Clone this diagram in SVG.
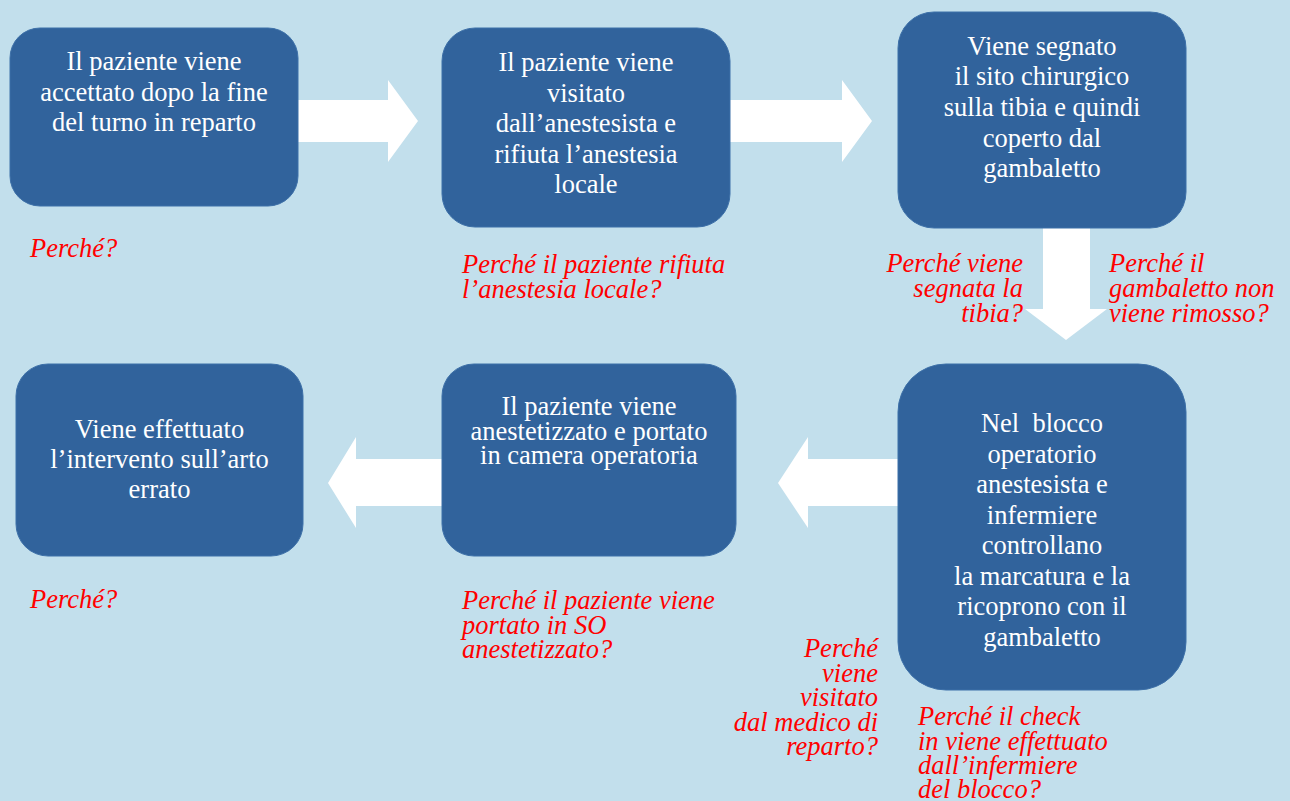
<svg xmlns="http://www.w3.org/2000/svg" width="1290" height="801" viewBox="0 0 1290 801">
<style>
.box{fill:#31639c;stroke:#3d70a8;stroke-width:1}
.bt{font-family:"Liberation Serif","Times New Roman",serif;font-size:26.5px;fill:#ffffff;text-anchor:middle}
.q{font-family:"Liberation Serif","Times New Roman",serif;font-size:26.5px;font-style:italic;fill:#ff0000}
.qr{text-anchor:end}
.arr{fill:#ffffff}
</style>
<rect width="1290" height="801" fill="#c2dfec"/>
<g id="connectors">
<polygon class="arr" points="298,100 388,100 388,80 418,121 388,162 388,142 298,142"/>
<polygon class="arr" points="730,100 842,100 842,80 872,121 842,162 842,142 730,142"/>
<polygon class="arr" points="1043,228 1090,228 1090,309 1107,309 1066,340 1025,309 1043,309"/>
<polygon class="arr" points="898,459 808,459 808,437 778,483 808,528 808,506 898,506"/>
<polygon class="arr" points="442,459 356,459 356,437 328,483 356,528 356,506 442,506"/>
</g>
<g id="n1">
<rect class="box" x="10" y="28" width="288" height="178" rx="30"/>
<text class="bt"><tspan x="154" y="70">Il paziente viene</tspan><tspan x="154" y="100.5">accettato dopo la fine</tspan><tspan x="154" y="131">del turno in reparto</tspan></text>
</g>
<g id="n2">
<rect class="box" x="442" y="28" width="288" height="199" rx="33"/>
<text class="bt"><tspan x="586" y="70.5">Il paziente viene</tspan><tspan x="586" y="101.5">visitato</tspan><tspan x="586" y="132">dall’anestesista e</tspan><tspan x="586" y="162.5">rifiuta l’anestesia</tspan><tspan x="586" y="193">locale</tspan></text>
</g>
<g id="n3">
<rect class="box" x="898" y="12" width="288" height="216" rx="36"/>
<text class="bt"><tspan x="1042" y="54.5">Viene segnato</tspan><tspan x="1042" y="85">il sito chirurgico</tspan><tspan x="1042" y="116">sulla tibia e quindi</tspan><tspan x="1042" y="146.5">coperto dal</tspan><tspan x="1042" y="177">gambaletto</tspan></text>
</g>
<g id="n4">
<rect class="box" x="16" y="364" width="287" height="192" rx="32"/>
<text class="bt"><tspan x="159.5" y="438">Viene effettuato</tspan><tspan x="159.5" y="468">l’intervento sull’arto</tspan><tspan x="159.5" y="498">errato</tspan></text>
</g>
<g id="n5">
<rect class="box" x="442" y="364" width="294" height="192" rx="32"/>
<text class="bt"><tspan x="589" y="415">Il paziente viene</tspan><tspan x="589" y="439.5">anestetizzato e portato</tspan><tspan x="589" y="464">in camera operatoria</tspan></text>
</g>
<g id="n6">
<rect class="box" x="898" y="364" width="288" height="326" rx="48"/>
<text class="bt"><tspan x="1042" y="432">Nel&#160; blocco</tspan><tspan x="1042" y="462.5">operatorio</tspan><tspan x="1042" y="493">anestesista e</tspan><tspan x="1042" y="523.5">infermiere</tspan><tspan x="1042" y="554">controllano</tspan><tspan x="1042" y="584.5">la marcatura e la</tspan><tspan x="1042" y="615">ricoprono con il</tspan><tspan x="1042" y="645.5">gambaletto</tspan></text>
</g>
<g id="questions">
<text class="q" x="30" y="257">Perché?</text>
<text class="q"><tspan x="462" y="273">Perché il paziente rifiuta</tspan><tspan x="462" y="297.5">l’anestesia locale?</tspan></text>
<text class="q qr"><tspan x="1023" y="272">Perché viene</tspan><tspan x="1023" y="297">segnata la</tspan><tspan x="1023" y="322">tibia?</tspan></text>
<text class="q"><tspan x="1109" y="272">Perché il</tspan><tspan x="1109" y="297">gambaletto non</tspan><tspan x="1109" y="322">viene rimosso?</tspan></text>
<text class="q" x="30" y="608">Perché?</text>
<text class="q"><tspan x="462" y="609">Perché il paziente viene</tspan><tspan x="462" y="633.5">portato in SO</tspan><tspan x="462" y="658">anestetizzato?</tspan></text>
<text class="q qr"><tspan x="878" y="657">Perché</tspan><tspan x="878" y="681.5">viene</tspan><tspan x="878" y="706">visitato</tspan><tspan x="878" y="730.5">dal medico di</tspan><tspan x="878" y="755">reparto?</tspan></text>
<text class="q"><tspan x="918" y="725">Perché il check</tspan><tspan x="918" y="749.5">in viene effettuato</tspan><tspan x="918" y="774">dall’infermiere</tspan><tspan x="918" y="798">del blocco?</tspan></text>
</g>
</svg>
